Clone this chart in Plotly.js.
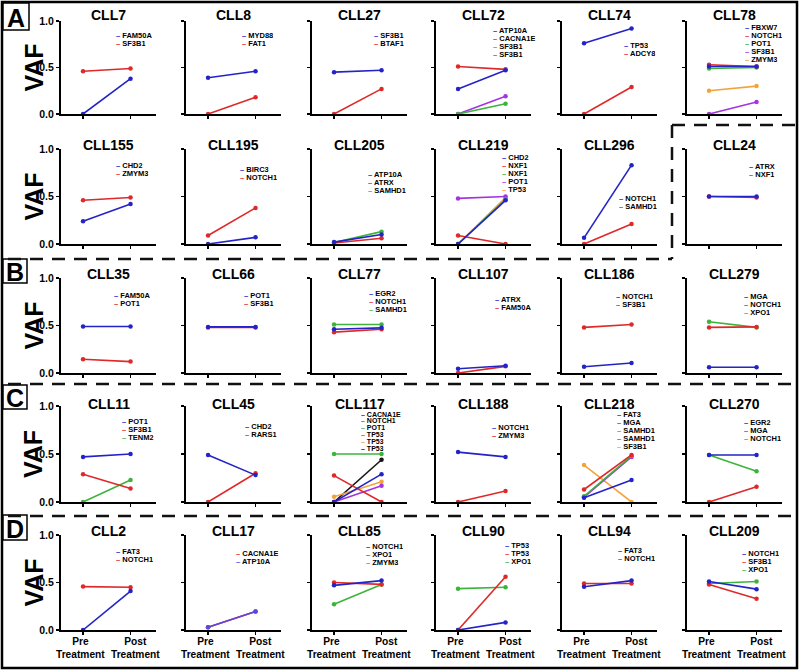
<!DOCTYPE html>
<html><head><meta charset="utf-8">
<script src="https://cdn.plot.ly/plotly-3.0.1.min.js"></script>
<style>html,body{margin:0;padding:0;background:#fff}#chart{width:800px;height:671px}</style>
</head><body><div id="chart"></div>
<script>
// ---------------- DATA ----------------
const panels = ['CLL7','CLL8','CLL27','CLL72','CLL74','CLL78',
  'CLL155','CLL195','CLL205','CLL219','CLL296','CLL24',
  'CLL35','CLL66','CLL77','CLL107','CLL186','CLL279',
  'CLL11','CLL45','CLL117','CLL188','CLL218','CLL270',
  'CLL2','CLL17','CLL85','CLL90','CLL94','CLL209'];
const genes = [
  ['FAM50A','SF3B1'], ['MYD88','FAT1'], ['SF3B1','BTAF1'],
  ['ATP10A','CACNA1E','SF3B1','SF3B1'], ['TP53','ADCY8'],
  ['FBXW7','NOTCH1','POT1','SF3B1','ZMYM3'],
  ['CHD2','ZMYM3'], ['BIRC3','NOTCH1'], ['ATP10A','ATRX','SAMHD1'],
  ['CHD2','NXF1','NXF1','POT1','TP53'], ['NOTCH1','SAMHD1'], ['ATRX','NXF1'],
  ['FAM50A','POT1'], ['POT1','SF3B1'], ['EGR2','NOTCH1','SAMHD1'],
  ['ATRX','FAM50A'], ['NOTCH1','SF3B1'], ['MGA','NOTCH1','XPO1'],
  ['POT1','SF3B1','TENM2'], ['CHD2','RARS1'],
  ['CACNA1E','NOTCH1','POT1','TP53','TP53','TP53'], ['NOTCH1','ZMYM3'],
  ['FAT3','MGA','SAMHD1','SAMHD1','SF3B1'], ['EGR2','MGA','NOTCH1'],
  ['FAT3','NOTCH1'], ['CACNA1E','ATP10A'], ['NOTCH1','XPO1','ZMYM3'],
  ['TP53','TP53','XPO1'], ['FAT3','NOTCH1'], ['NOTCH1','SF3B1','XPO1']
];
const preVAF = [
  [0, 0.46], [0.39, 0], [0.45, 0],
  [0.27, 0.51, 0, 0], [0.76, 0],
  [0.51, 0.53, 0.49, 0, 0.25],
  [0.24, 0.46], [0, 0.09], [0.02, 0.01, 0.015],
  [0, 0.09, 0, 0.48, 0], [0.065, 0], [0.50, 0.50],
  [0.49, 0.145], [0.485, 0.48], [0.46, 0.43, 0.51],
  [0.045, 0], [0.066, 0.48], [0.06, 0.48, 0.54],
  [0.47, 0.29, 0], [0.49, 0],
  [0, 0.275, 0.50, 0, 0.054, 0], [0.52, 0],
  [0.043, 0.13, 0.06, 0.05, 0.385], [0.49, 0, 0.49],
  [0, 0.457], [0.03, 0.03], [0.47, 0.50, 0.27],
  [0, 0, 0.435], [0.455, 0.49], [0.51, 0.48, 0.49]
];
const postVAF = [
  [0.38, 0.49], [0.46, 0.18], [0.47, 0.27],
  [0.47, 0.48, 0.11, 0.19], [0.92, 0.29],
  [0.51, 0.51, 0.50, 0.13, 0.30],
  [0.42, 0.49], [0.07, 0.38], [0.10, 0.06, 0.13],
  [0.46, 0, 0.47, 0.50, 0.49], [0.83, 0.21], [0.50, 0.49],
  [0.49, 0.12], [0.485, 0.48], [0.475, 0.46, 0.51],
  [0.077, 0.07], [0.106, 0.51], [0.06, 0.485, 0.48],
  [0.50, 0.14, 0.23], [0.28, 0.30],
  [0.29, 0, 0.50, 0.17, 0.21, 0.44], [0.47, 0.115],
  [0.23, 0.49, 0.48, 0.47, 0], [0.49, 0.16, 0.32],
  [0.41, 0.45], [0.195, 0.195], [0.52, 0.48, 0.48],
  [0.08, 0.56, 0.45], [0.52, 0.49], [0.43, 0.33, 0.51]
];
const xTickVals = [0, 1];
const xTickLabels = ['Pre<br>Treatment', 'Post<br>Treatment'];
const yTickVals = [0, 0.5, 1];
const yTickLabels = ['0.0', '0.5', '1.0'];
const yAxisLabel = 'VAF';
const sectionLetters = ['A', 'B', 'C', 'D'];

// ---------------- STYLE / LAYOUT ----------------
const W = 800, H = 671;
const FONT = 'Liberation Sans, Arial, Helvetica, sans-serif';
const palette = ['#2323c8', '#e02828', '#3cb43c', '#a434e0', '#f2a43c', '#151515'];
const colorOverrides = { CLL17: ['#e02828', '#5a48e0'] };
const drawFirstOnTop = { CLL17: false };
const colLeft = [61, 186, 312, 436, 562, 687];
const plotW = 95;
const rowTop = [21, 149, 278, 406, 535];
const rowBottom = [114, 244, 373, 502, 630];
const titleY = [14, 144, 273, 403, 530];
const legendPos = [
  [56,15],[57,15],[63,15],[58,10],[63,25],[59,7],
  [56,17],[55,21],[57,26],[67,9],[58,50],[63,18],
  [54,18],[59,18],[58,16],[60,22],[55,19],[58,19],
  [62,16],[60,21],[50,8],[57,22],[56,9],[58,17],
  [56,17],[51,19],[55,12],[70,11],[57,16],[56,19]
];
const legendSpacing = { default: 7.9, CLL117: 6.9 };
const xLabelShift = [-2.5, 4.5];
const xLabelY = 648;

const px = v => v / W;
const py = v => 1 - v / H;

const traces = [];
const layout = {
  width: W, height: H,
  margin: { l: 0, r: 0, t: 0, b: 0 },
  paper_bgcolor: '#fff', plot_bgcolor: 'rgba(0,0,0,0)',
  showlegend: false,
  font: { family: FONT, color: '#000' },
  annotations: [], shapes: []
};

panels.forEach((name, i) => {
  const r = Math.floor(i / 6), c = i % 6, n = i + 1;
  const xa = 'xaxis' + (n === 1 ? '' : n), ya = 'yaxis' + (n === 1 ? '' : n);
  const xr = 'x' + (n === 1 ? '' : n), yr = 'y' + (n === 1 ? '' : n);
  layout[xa] = {
    domain: [px(colLeft[c]), px(colLeft[c] + plotW)],
    range: [-0.464, 1.536], anchor: yr,
    showline: true, linecolor: '#000', linewidth: 2,
    ticks: 'outside', ticklen: 3, tickwidth: 1.5, tickcolor: '#000',
    tickvals: xTickVals, showticklabels: false,
    showgrid: false, zeroline: false, fixedrange: true
  };
  layout[ya] = {
    domain: [py(rowBottom[r]), py(rowTop[r])],
    range: [0, 1], anchor: xr,
    showline: true, linecolor: '#000', linewidth: 2,
    ticks: 'outside', ticklen: 3, tickwidth: 1.5, tickcolor: '#000',
    tickvals: yTickVals, ticktext: yTickLabels,
    showticklabels: c === 0,
    tickfont: { family: FONT, size: 10.5, color: '#000', weight: 'bold' },
    showgrid: false, zeroline: false, fixedrange: true
  };
  const cols = colorOverrides[name] || palette;
  const idx = genes[i].map((g, j) => j);
  const order = (drawFirstOnTop[name] === false) ? idx : idx.slice().reverse();
  order.forEach(j => {
    traces.push({
      type: 'scatter', mode: 'lines+markers',
      x: xTickVals, y: [preVAF[i][j], postVAF[i][j]],
      xaxis: xr, yaxis: yr, cliponaxis: false,
      line: { color: cols[j], width: 1.6 },
      marker: { color: cols[j], size: 4.5 },
      name: genes[i][j], hoverinfo: 'skip'
    });
  });
  // x tick labels (bottom row only)
  if (r === 4) {
    xTickVals.forEach((v, k) => {
      layout.annotations.push({
        xref: xr, yref: 'paper', x: v, y: py(xLabelY), xshift: xLabelShift[k],
        xanchor: 'center', yanchor: 'middle', showarrow: false,
        text: xTickLabels[k],
        font: { family: FONT, size: 10.2, color: '#000', weight: 'bold' }
      });
    });
  }
  // title
  layout.annotations.push({
    xref: 'paper', yref: 'paper', x: px(colLeft[c] + plotW / 2), y: py(titleY[r]),
    xanchor: 'center', yanchor: 'middle', showarrow: false,
    height: 13, borderpad: 0,
    text: name, font: { family: FONT, size: 14, color: '#000', weight: 'bold' }
  });
  // legend
  const sp = legendSpacing[name] || legendSpacing.default;
  const fs = name === 'CLL117' ? 7 : 7.5;
  genes[i].forEach((g, j) => {
    layout.annotations.push({
      xref: 'paper', yref: 'paper',
      x: px(colLeft[c] + legendPos[i][0] - 2), y: py(rowTop[r] + legendPos[i][1] + j * sp),
      xanchor: 'left', yanchor: 'middle', showarrow: false,
      height: sp - 0.4, borderpad: 0,
      text: '<span style="color:' + cols[j] + '">–</span> ' + g,
      font: { family: FONT, size: fs, color: '#000', weight: 'bold' }
    });
  });
});

// VAF labels
for (let r = 0; r < 5; r++) {
  layout.annotations.push({
    xref: 'paper', yref: 'paper', x: px(33), y: py((rowTop[r] + rowBottom[r]) / 2),
    xanchor: 'center', yanchor: 'middle', showarrow: false, textangle: -90,
    text: yAxisLabel,
    font: { family: 'Liberation Sans Narrow, ' + FONT, size: 25, color: '#000', weight: 'bold' }
  });
}

// section letters with boxes
const letterBox = [[3, 3, 29, 30], [3, 259, 27, 283], [3, 385, 27, 409], [3, 515, 27, 540]];
sectionLetters.forEach((L, k) => {
  const b = letterBox[k];
  layout.shapes.push({ type: 'rect', xref: 'paper', yref: 'paper',
    x0: px(b[0]), x1: px(b[2]), y0: py(b[3]), y1: py(b[1]),
    line: { color: '#000', width: 1.5 }, fillcolor: '#fff' });
  layout.annotations.push({ xref: 'paper', yref: 'paper',
    x: px((b[0] + b[2]) / 2), y: py((b[1] + b[3]) / 2 + 1),
    xanchor: 'center', yanchor: 'middle', showarrow: false, text: L,
    font: { family: FONT, size: 25, color: '#000', weight: 'bold' } });
});

// frame and dashed separators
const dashed = { color: '#111', width: 2.5, dash: '13px,9px' };
function seg(x0, y0, x1, y1, line) {
  layout.shapes.push({ type: 'line', xref: 'paper', yref: 'paper',
    x0: px(x0), y0: py(y0), x1: px(x1), y1: py(y1), line: line });
}
layout.shapes.unshift({ type: 'rect', xref: 'paper', yref: 'paper',
  x0: px(2), x1: px(797), y0: py(668), y1: py(2), line: { color: '#000', width: 2.5 } });
seg(8, 259, 672, 259, dashed);
seg(672, 125, 672, 259, dashed);
seg(672, 125, 797, 125, dashed);
seg(8, 384, 797, 384, dashed);
seg(8, 516, 797, 516, dashed);

Plotly.newPlot('chart', traces, layout, { staticPlot: true, displayModeBar: false });
</script>
</body></html>
